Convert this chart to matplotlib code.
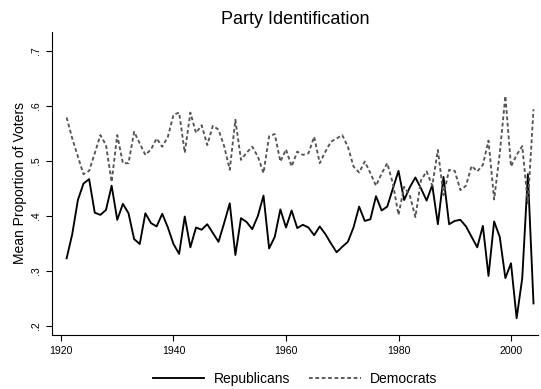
import matplotlib
matplotlib.use("Agg")
import matplotlib.pyplot as plt
import numpy as np

plt.rcParams['font.family'] = ['Liberation Sans', 'DejaVu Sans']

years = list(range(1921, 2005))

republicans = [
    0.323, 0.367, 0.429, 0.459, 0.467, 0.406, 0.402, 0.411, 0.455, 0.393,
    0.422, 0.405, 0.358, 0.349, 0.405, 0.387, 0.381, 0.404, 0.379, 0.349,
    0.331, 0.399, 0.343, 0.379, 0.375, 0.385, 0.369, 0.353, 0.387, 0.423,
    0.329, 0.396, 0.389, 0.376, 0.400, 0.437, 0.341, 0.362, 0.412, 0.379,
    0.410, 0.378, 0.384, 0.379, 0.365, 0.381, 0.367, 0.350, 0.334, 0.344,
    0.353, 0.379, 0.417, 0.391, 0.394, 0.436, 0.410, 0.417, 0.450, 0.482,
    0.429, 0.452, 0.470, 0.450, 0.428, 0.456, 0.385, 0.471, 0.385, 0.391,
    0.393, 0.381, 0.362, 0.343, 0.382, 0.291, 0.390, 0.362, 0.287, 0.314,
    0.214, 0.287, 0.476, 0.241,
]

democrats = [
    0.579, 0.541, 0.508, 0.476, 0.482, 0.514, 0.547, 0.529, 0.462, 0.547,
    0.496, 0.496, 0.553, 0.532, 0.511, 0.521, 0.541, 0.526, 0.544, 0.584,
    0.588, 0.515, 0.588, 0.551, 0.565, 0.529, 0.564, 0.557, 0.527, 0.484,
    0.575, 0.502, 0.515, 0.526, 0.508, 0.478, 0.545, 0.549, 0.499, 0.521,
    0.490, 0.517, 0.511, 0.514, 0.544, 0.496, 0.517, 0.535, 0.541, 0.547,
    0.526, 0.490, 0.479, 0.499, 0.478, 0.455, 0.477, 0.496, 0.459, 0.402,
    0.453, 0.438, 0.398, 0.465, 0.481, 0.455, 0.520, 0.438, 0.484, 0.482,
    0.447, 0.455, 0.491, 0.481, 0.493, 0.537, 0.430, 0.514, 0.618, 0.490,
    0.511, 0.527, 0.423, 0.594,
]

x_ticks = [1920, 1940, 1960, 1980, 2000]
y_ticks = [0.2, 0.3, 0.4, 0.5, 0.6, 0.7]

fig = plt.figure(figsize=(5.41, 3.89), dpi=100)
ax = fig.add_axes([52 / 541, 1 - 335 / 389, (538 - 52) / 541, (335 - 32) / 389])

ax.plot(years, republicans, color='black', lw=1.35, label='Republicans')
ax.plot(years, democrats, color='#555555', lw=1.35, dashes=(2.0, 1.4), label='Democrats')

ax.set_xlim(1918.4, 2004.8)
ax.set_ylim(0.1836, 0.7345)

ax.set_xticks(x_ticks)
ax.set_xticklabels([str(t) for t in x_ticks], fontsize=7.6)
ax.set_yticks(y_ticks)
ax.set_yticklabels([('%.1f' % t).lstrip('0') for t in y_ticks], fontsize=7.6,
                   rotation=90, va='center')
ax.tick_params(direction='out', length=4, width=0.8, colors='black', pad=4)

for side in ['top', 'right']:
    ax.spines[side].set_visible(False)
for side in ['left', 'bottom']:
    ax.spines[side].set_linewidth(0.8)

ax.set_ylabel('Mean Proportion of Voters', fontsize=10, labelpad=3)
fig.text(295 / 541, 1 - 24 / 389, 'Party Identification', fontsize=13,
         ha='center', va='baseline')

fig.legend(loc='center', bbox_to_anchor=(295 / 541, 1 - 379 / 389), ncol=2,
           frameon=False, fontsize=10, handlelength=3.7, handletextpad=0.65,
           columnspacing=1.4, borderaxespad=0)

fig.savefig('out.png', dpi=100)
